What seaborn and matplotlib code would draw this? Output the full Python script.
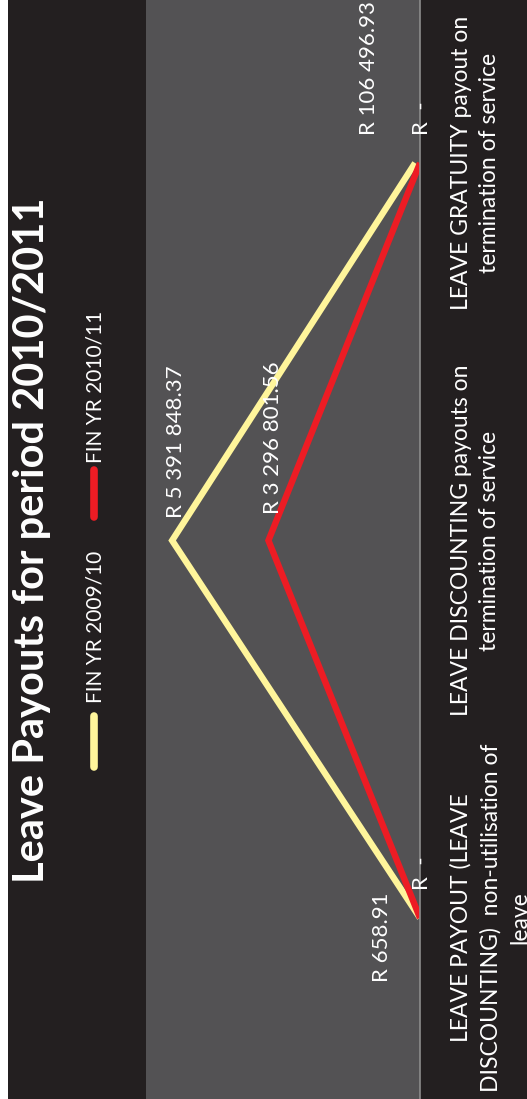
import numpy as np
import pandas as pd
import matplotlib
matplotlib.use("Agg")
import matplotlib.pyplot as plt
from matplotlib.patches import Rectangle
from matplotlib.lines import Line2D
import seaborn as sns

# ---------------- data ----------------
categories = [
    "LEAVE PAYOUT (LEAVE\nDISCOUNTING)  non-utilisation of\nleave",
    "LEAVE DISCOUNTING payouts on\ntermination of service",
    "LEAVE GRATUITY payout on\ntermination of service",
]
series_names = ["FIN YR 2009/10", "FIN YR 2010/11"]
values_2009 = [658.91, 5391848.37, 106496.93]
values_2010 = [0.0, 3296801.56, 0.0]
title = "Leave Payouts for period 2010/2011"

# ---------------- style ----------------
DARK = "#231f20"
GRAY = "#535254"
YELLOW = "#fff59b"
RED = "#ed1c24"
AXIS = "#8c8c8c"

sns.set_theme(style="dark")
plt.rcParams["font.family"] = ["Lato", "DejaVu Sans"]

W, H = 527, 1099
fig = plt.figure(figsize=(W / 100, H / 100), dpi=100, facecolor="white")
fig.add_artist(Rectangle((8 / W, 0), 1 - 8 / W, 1, transform=fig.transFigure,
                         facecolor=DARK, edgecolor="none", zorder=-10))

ax = fig.add_axes([146 / W, 0, (420 - 146) / W, 1])
ax.set_facecolor(GRAY)

pos = np.arange(len(categories))
df = pd.DataFrame({
    "value": values_2009 + values_2010,
    "pos": list(pos) * 2,
    "series": [series_names[0]] * len(pos) + [series_names[1]] * len(pos),
})
sns.lineplot(data=df, x="value", y="pos", hue="series", palette=[YELLOW, RED],
             orient="y", linewidth=4.6, legend=False, ax=ax)
for ln in ax.lines:
    ln.set_solid_capstyle("butt")
    ln.set_solid_joinstyle("miter")

ax.set_xlim(5.96e6, 0)
ax.set_ylim(-181 / 377.5, (H - 181) / 377.5)
ax.grid(False)
ax.set_xticks([])
ax.set_xlabel("")
ax.set_ylabel("")
for s in ["left", "top", "bottom"]:
    ax.spines[s].set_visible(False)
ax.spines["right"].set_visible(True)
ax.spines["right"].set_color(AXIS)
ax.spines["right"].set_linewidth(1.2)

ax.yaxis.tick_right()
ax.set_yticks(pos)
ax.set_yticklabels(categories, rotation=90, va="center", ha="left",
                   multialignment="center", linespacing=1.45,
                   color="white", fontsize=16.5)
ax.tick_params(axis="y", length=0, pad=22)


def fmt(v):
    if v == 0:
        return "R  -"
    return "R " + f"{v:,.2f}".replace(",", " ")


# data labels (offsets in pixels, display coords)
offsets = {
    0: [(-38, -64), (4, 23), (-46, 28)],
    1: [(2, 28), (5, 27), (2, 28)],
}
for si, vals in enumerate([values_2009, values_2010]):
    for ci, v in enumerate(vals):
        dx, dy = offsets[si][ci]
        ax.annotate(fmt(v), xy=(v, pos[ci]), xytext=(dx, dy),
                    textcoords="offset pixels", rotation=90,
                    ha="center", va="bottom", color="white", fontsize=16,
                    annotation_clip=False)

# title
fig.text(32 / W, 1 - 540 / H, title, rotation=90, ha="center", va="center",
         fontweight="bold", fontsize=30, color="white")

# legend (manual, rotated)
leg = [
    (series_names[0], YELLOW, 716, 767, 703),
    (series_names[1], RED, 470, 517, 463),
]
for name, col, y0, y1, ytxt in leg:
    fig.add_artist(Line2D([94 / W, 94 / W], [1 - y0 / H, 1 - y1 / H],
                          transform=fig.transFigure, color=col, lw=5.5,
                          solid_capstyle="round"))
    fig.text(96 / W, 1 - ytxt / H, name, rotation=90, ha="center", va="bottom",
             color="white", fontsize=15)

fig.savefig("out.png", dpi=100, facecolor=fig.get_facecolor())
